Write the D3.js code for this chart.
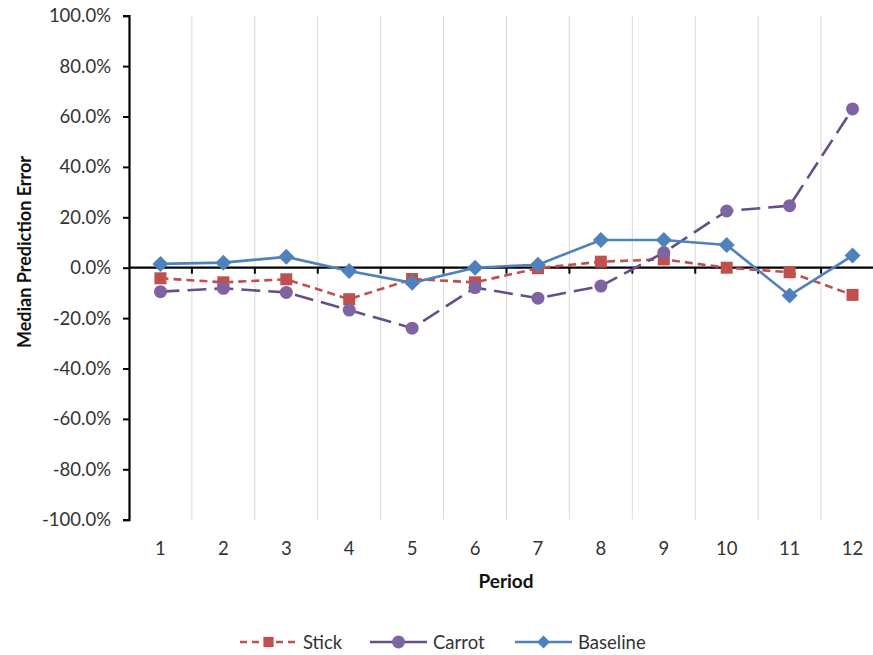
<!DOCTYPE html>
<html>
<head>
<meta charset="utf-8">
<script src="https://cdn.jsdelivr.net/npm/d3@7"></script>
<style>
body{margin:0;background:#fff}
text{font-family:Lato,"Open Sans",sans-serif;fill:#333}
</style>
</head>
<body>
<div id="chart"></div>
<script>
const periods=[1,2,3,4,5,6,7,8,9,10,11,12]
const stick=[-4.2,-5.8,-4.6,-12.5,-4.5,-5.8,-0.2,2.4,3.3,0.0,-1.8,-10.8]
const carrot=[-9.5,-8.2,-9.8,-16.8,-24.0,-7.9,-12.1,-7.3,6.0,22.5,24.6,63.0]
const baseline=[1.5,2.0,4.3,-1.3,-6.0,0.0,1.2,11.0,11.0,9.0,-11.0,4.8]
const yTicks=[-100,-80,-60,-40,-20,0,20,40,60,80,100]

const width=873
const height=655

const svg=d3.select("#chart")
.append("svg")
.attr("width",width)
.attr("height",height)

const x=d3.scaleBand()
.domain(periods)
.range([129,884])
.paddingInner(0)
.paddingOuter(0)

const y=d3.scaleLinear()
.domain([-100,100])
.range([519.7,15.7])

const cx=p=>x(p)+x.bandwidth()/2

// vertical gridlines at category borders
const borders=periods.slice(1)
svg.append("g")
.selectAll("line")
.data(borders)
.enter()
.append("line")
.attr("x1",d=>x(d))
.attr("x2",d=>x(d))
.attr("y1",y(100))
.attr("y2",y(-100))
.attr("stroke","#d9d9d9")
.attr("stroke-width",1)

// y axis
const yAxis=svg.append("g")
.attr("transform","translate(129,0)")
.call(d3.axisLeft(y).tickValues(yTicks).tickSize(6).tickFormat(d=>d.toFixed(1)+"%"))
yAxis.select(".domain").attr("stroke","#000").attr("stroke-width",2.2)
yAxis.selectAll(".tick line").attr("stroke","#000").attr("stroke-width",2)
yAxis.selectAll(".tick text")
.attr("x",-18)
.style("font-family","Lato,'Open Sans',sans-serif")
.style("font-size","18.5px")
.attr("fill","#333")

// zero axis with ticks at borders
const zero=svg.append("g")
zero.append("line")
.attr("x1",129)
.attr("x2",884)
.attr("y1",y(0))
.attr("y2",y(0))
.attr("stroke","#000")
.attr("stroke-width",2.2)
zero.selectAll(".tk")
.data(borders)
.enter()
.append("line")
.attr("x1",d=>x(d))
.attr("x2",d=>x(d))
.attr("y1",y(0))
.attr("y2",y(0)+6)
.attr("stroke","#000")
.attr("stroke-width",2)

// category labels
svg.append("g")
.selectAll("text")
.data(periods)
.enter()
.append("text")
.attr("x",d=>cx(d))
.attr("y",555)
.attr("text-anchor","middle")
.style("font-size","18.5px")
.text(d=>d)

// axis titles
svg.append("text")
.attr("x",506)
.attr("y",588)
.attr("text-anchor","middle")
.style("font-size","19px")
.style("font-weight","bold")
.style("fill","#111")
.text("Period")

svg.append("text")
.attr("transform","translate(31,252) rotate(-90)")
.attr("text-anchor","middle")
.style("font-size","18px")
.style("font-weight","bold")
.style("fill","#111")
.text("Median Prediction Error")

const series=[
{name:"Stick",values:stick,color:"#c0504d",line:"#c0504d",dash:"8,5",legendDash:"7,5",shape:"square"},
{name:"Carrot",values:carrot,color:"#8064a2",line:"#664e8c",dash:"19,8",legendDash:null,shape:"circle"},
{name:"Baseline",values:baseline,color:"#4f81bd",line:"#4f81bd",dash:null,legendDash:null,shape:"diamond"}
]

const line=d3.line()
.x((d,i)=>cx(periods[i]))
.y(d=>y(d))

function marker(g,shape,color,px,py,scale){
if(shape==="square"){
g.append("rect")
.attr("x",px-6*scale)
.attr("y",py-6*scale)
.attr("width",12*scale)
.attr("height",12*scale)
.attr("fill",color)
}else if(shape==="circle"){
g.append("circle")
.attr("cx",px)
.attr("cy",py)
.attr("r",6.5*scale)
.attr("fill",color)
}else{
const s=8*scale
g.append("path")
.attr("d","M"+px+","+(py-s)+"L"+(px+s)+","+py+"L"+px+","+(py+s)+"L"+(px-s)+","+py+"Z")
.attr("fill",color)
}
}

series.forEach(s=>{
const g=svg.append("g")
g.append("path")
.datum(s.values)
.attr("d",line)
.attr("fill","none")
.attr("stroke",s.line)
.attr("stroke-width",2.6)
.attr("stroke-dasharray",s.dash)
s.values.forEach((v,i)=>marker(g,s.shape,s.color,cx(periods[i]),y(v),1))
})

// legend
const legendX=[240,370,515]
series.forEach((s,i)=>{
const g=svg.append("g")
const lx=legendX[i]
const ly=642
g.append("line")
.attr("x1",lx)
.attr("x2",lx+57)
.attr("y1",ly)
.attr("y2",ly)
.attr("stroke",s.line)
.attr("stroke-width",2.6)
.attr("stroke-dasharray",s.legendDash)
marker(g,s.shape,s.color,lx+28.5,ly,i===2?0.8:(i===0?0.85:1))
g.append("text")
.attr("x",lx+63)
.attr("y",ly+6.5)
.style("font-size","18.5px")
.text(s.name)
})
</script>
</body>
</html>
